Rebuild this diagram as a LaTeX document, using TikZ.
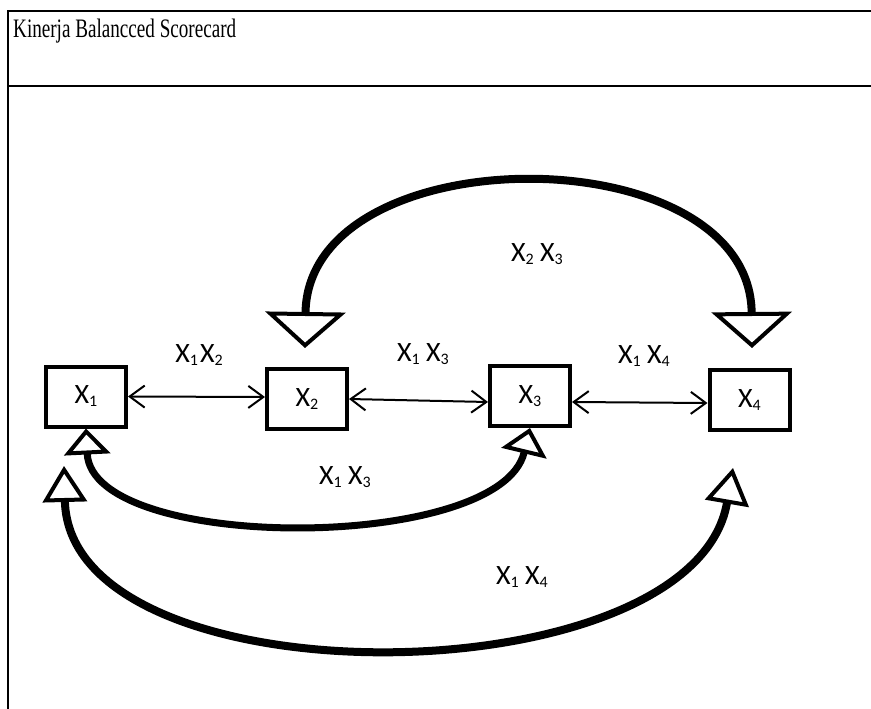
\documentclass[tikz,border=0pt]{standalone}
\usepackage{fontspec}
\setmainfont{Liberation Serif}
\newfontfamily\carl{Carlito}
\usetikzlibrary{arrows.meta,calc}
\newcommand{\xs}[1]{X\raisebox{-3pt}{\fontsize{16}{16}\selectfont #1}}
\begin{document}
\begin{tikzpicture}[x=1pt,y=-1pt,
  box/.style={draw, line width=4pt, minimum width=80pt, minimum height=60pt, inner sep=0pt, font=\carl\fontsize{28}{30}\selectfont},
  lbl/.style={inner sep=0pt, anchor=base, font=\carl\fontsize{28}{30}\selectfont},
  frameline/.style={line width=2pt},
  thinarrow/.style={line width=2pt, {Straight Barb[length=15pt,width=22pt]}-{Straight Barb[length=15pt,width=22pt]}},
  bigtri/.style={{Triangle[open,quick,length=36pt,width=80pt,line width'=4pt]}-{Triangle[open,quick,length=36pt,width=80pt,line width'=4pt]}},
  midtri/.style={{Triangle[open,quick,length=26pt,width=46pt,line width'=4pt]}-{Triangle[open,quick,length=26pt,width=46pt,line width'=4pt]}},
  lowtri/.style={{Triangle[open,quick,length=36pt,width=44pt,line width'=4pt]}-{Triangle[open,quick,length=36pt,width=44pt,line width'=4pt]}},
]
\useasboundingbox (0,0) rectangle (871,709);
% table frame
\draw[frameline] (871,11) -- (8,11) -- (8,709);
\draw[frameline] (8,86) -- (871,86);
\node[anchor=base west, inner sep=0pt] (title) at (13,38)
  {\resizebox{223pt}{18.5pt}{\fontsize{20}{22}\selectfont Kinerja Balancced Scorecard}};
% boxes
\node[box] (X1) at (86,396.5) {\xs{1}};
\node[box] (X2) at (307,399) {\xs{2}};
\node[box] (X3) at (530,396) {\xs{3}};
\node[box] (X4) at (749.5,400) {\xs{4}};
% straight double arrows
\draw[thinarrow] (X1.east) -- ($(X2.west)+(0,-2)$);
\draw[thinarrow] (X2.east) -- ($(X3.west)+(0,6)$);
\draw[thinarrow] ($(X3.east)+(0,6)$) -- ($(X4.west)+(0,3)$);
% curved arrows
\coordinate (a2) at (305,348);
\coordinate (a4) at (752,348);
\draw[line width=8pt, bigtri] (a2) .. controls (308,134) and (750,134) .. (a4);
\draw[line width=7pt, midtri] (X1.south) .. controls (92,553) and (500,553) .. (X3.south);
\coordinate (b1) at (64,466);
\coordinate (b4) at (733,468);
\draw[line width=8pt, lowtri] (b1) .. controls (70,705) and (693,700) .. (b4);
% labels
\node[lbl] (l12) at (199,362) {\xs{1}\kern2pt\xs{2}};
\node[lbl] (l13u) at (423,361) {\xs{1} \xs{3}};
\node[lbl] (l14u) at (644,363) {\xs{1} \xs{4}};
\node[lbl] (l23) at (537,261) {\xs{2} \xs{3}};
\node[lbl] (l13d) at (345,484) {\xs{1} \xs{3}};
\node[lbl] (l14d) at (522,584) {\xs{1} \xs{4}};
\end{tikzpicture}
\end{document}
